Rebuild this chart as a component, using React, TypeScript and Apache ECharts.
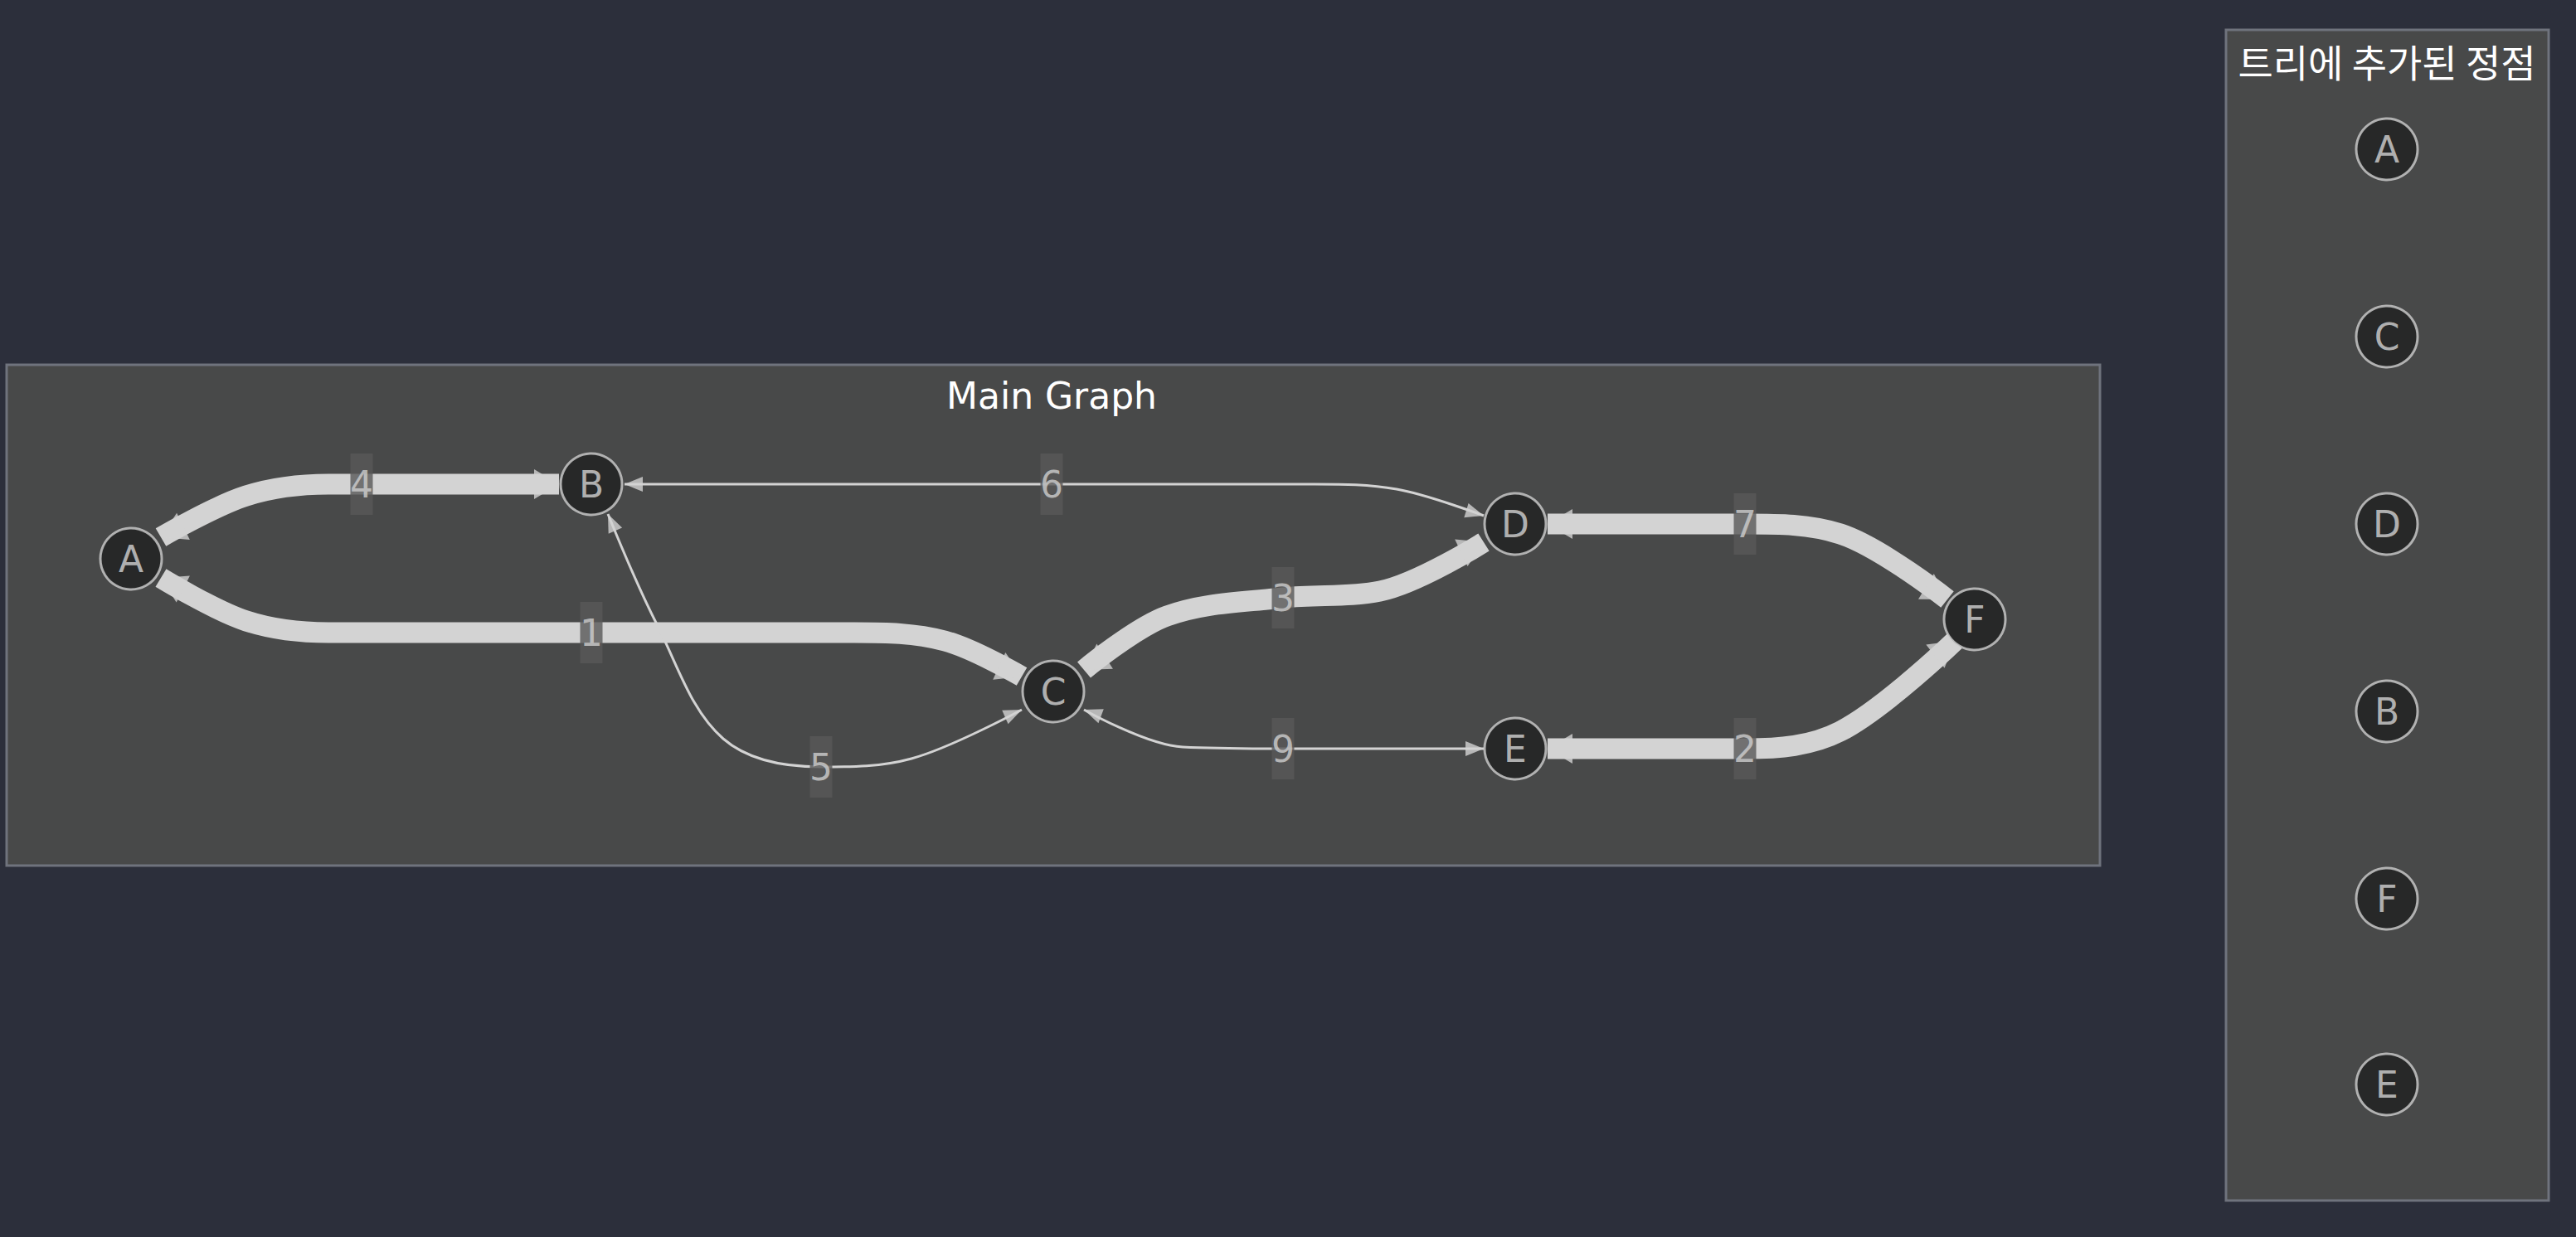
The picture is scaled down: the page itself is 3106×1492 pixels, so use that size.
import React, { useEffect, useRef } from "react";
import * as echarts from "echarts";

const W = 3106;
const H = 1492;

const nodeNames = ["A", "B", "C", "D", "E", "F"];
const nodeX = [158, 713, 1270, 1827, 1827, 2381];
const nodeY = [674, 584, 834, 632, 903, 747];

const treeOrder = ["A", "C", "D", "B", "F", "E"];
const treeX = 2878;
const treeY = [180, 406, 632, 858, 1084, 1308];

const edgeWeights = [4, 1, 5, 6, 3, 9, 7, 2];
const edgeThick = [true, true, false, false, true, false, true, true];
const edgeLabelX = [436, 713, 990, 1268, 1547, 1547, 2104, 2104];
const edgeLabelY = [584, 763, 925, 584, 721, 903, 632, 903];
const edgePaths: number[][][] = [
  [[194, 648], [297, 598], [396, 584], [674, 584]],
  [[194, 697], [297, 749], [396, 763], [1030, 763], [1139, 773], [1232, 816]],
  [[733, 620], [792, 753], [872, 891], [990, 925], [1099, 915], [1232, 856]],
  [[753, 584], [1585, 584], [1684, 590], [1789, 622]],
  [[1307, 808], [1407, 743], [1547, 721], [1664, 713], [1789, 654]],
  [[1307, 856], [1426, 901], [1547, 903], [1789, 903]],
  [[1866, 632], [2104, 632], [2219, 644], [2348, 723]],
  [[1866, 903], [2104, 903], [2219, 882], [2357, 773]],
];

const FONT = "'DejaVu Sans', sans-serif";

function arrow(tip: number[], prev: number[], thick: boolean) {
  const dx = tip[0] - prev[0];
  const dy = tip[1] - prev[1];
  const len = Math.hypot(dx, dy) || 1;
  const ux = dx / len, uy = dy / len;
  const size = thick ? [36, 30] : [18, 22];
  const h = size[1];
  const rot = (Math.atan2(-ux, -uy) * 180) / Math.PI;
  return {
    value: [tip[0] - (ux * h) / 2, tip[1] - (uy * h) / 2],
    symbolRotate: rot,
    symbolSize: size,
  };
}

export default function App() {
  const ref = useRef<HTMLDivElement>(null);
  useEffect(() => {
    document.body.style.margin = "0";
    const chart = echarts.init(ref.current!, undefined, { renderer: "svg" });
    const lineSeries: any[] = edgePaths.map((p, i) => ({
      type: "line",
      data: p,
      smooth: 0.35,
      symbol: "none",
      z: 2,
      lineStyle: { color: "#d3d3d3", width: edgeThick[i] ? 25 : 3, cap: "butt" },
    }));
    const arrows: any[] = [];
    edgePaths.forEach((p, i) => {
      arrows.push(arrow(p[p.length - 1], p[p.length - 2], edgeThick[i]));
      arrows.push(arrow(p[0], p[1], edgeThick[i]));
    });
    const option: any = {
      animation: false,
      backgroundColor: "#2c2f3b",
      grid: { left: 0, right: 0, top: 0, bottom: 0 },
      xAxis: { type: "value", min: 0, max: W, show: false },
      yAxis: { type: "value", min: 0, max: H, inverse: true, show: false },
      graphic: [
        {
          type: "rect",
          z: -10,
          shape: { x: 8, y: 440, width: 2524, height: 604 },
          style: { fill: "#484949", stroke: "#6f737d", lineWidth: 3 },
        },
        {
          type: "text",
          z: -9,
          x: 1268,
          y: 477,
          style: { text: "Main Graph", fill: "#ffffff", font: "44px " + FONT, align: "center", verticalAlign: "middle" },
        },
        {
          type: "rect",
          z: -10,
          shape: { x: 2684, y: 36, width: 389, height: 1412 },
          style: { fill: "#484949", stroke: "#6f737d", lineWidth: 3 },
        },
        {
          type: "text",
          z: -9,
          x: 2878,
          y: 73,
          style: { text: "트리에 추가된 정점", fill: "#ffffff", font: "46px 'Noto Sans CJK KR', sans-serif", align: "center", verticalAlign: "middle" },
        },
      ],
      series: [
        ...lineSeries,
        {
          type: "scatter",
          symbol: "triangle",
          z: 3,
          itemStyle: { color: "#d3d3d3" },
          data: arrows,
        },
        {
          type: "scatter",
          symbol: "rect",
          symbolSize: [27, 74],
          z: 4,
          itemStyle: { color: "#595959" },
          label: {
            show: true,
            position: "inside",
            formatter: (p: any) => String(p.value[2]),
            color: "#d0d0d0",
            fontSize: 44,
            fontFamily: FONT,
          },
          data: edgeWeights.map((w, i) => [edgeLabelX[i], edgeLabelY[i], w]),
        },
        {
          type: "scatter",
          symbol: "circle",
          symbolSize: 74,
          z: 5,
          itemStyle: { color: "#1f2020", borderColor: "#cfcfcf", borderWidth: 3 },
          label: {
            show: true,
            position: "inside",
            formatter: (p: any) => p.value[2],
            color: "#d6d6d6",
            fontSize: 44,
            fontFamily: FONT,
          },
          data: [
            ...nodeNames.map((n, i) => [nodeX[i], nodeY[i], n]),
            ...treeOrder.map((n, i) => [treeX, treeY[i], n]),
          ],
        },
      ],
    };
    chart.setOption(option);
    return () => chart.dispose();
  }, []);
  return <div ref={ref} style={{ width: W, height: H }} />;
}
